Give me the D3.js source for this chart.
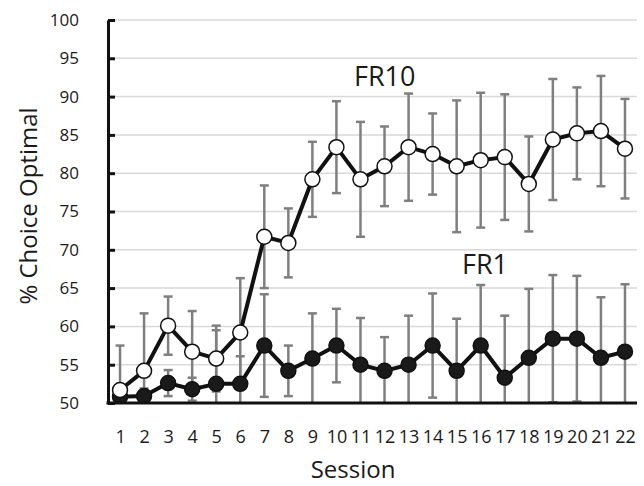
<!DOCTYPE html>
<html>
<head>
<meta charset="utf-8">
<script src="https://cdn.jsdelivr.net/npm/d3@7"></script>
<style>
  body { margin: 0; background: #fff; }
  text { font-family: "Open Sans", sans-serif; fill: #1a1a1a; }
</style>
</head>
<body>
<div id="container"></div>
<script>
// data
const sessions = d3.range(1, 23);
const fr10 = [51.7, 54.2, 60.1, 56.7, 55.8, 59.2, 71.7, 70.9, 79.2, 83.4, 79.2,
              80.9, 83.4, 82.5, 80.9, 81.7, 82.1, 78.6, 84.4, 85.2, 85.5, 83.2];
const fr10Err = [5.8, 7.5, 3.8, 5.3, 4.3, 7.1, 6.7, 4.5, 4.9, 6.0, 7.5,
                 5.2, 7.0, 5.3, 8.6, 8.8, 8.2, 6.2, 7.9, 6.0, 7.2, 6.5];
const fr1 = [50.8, 50.9, 52.6, 51.8, 52.5, 52.5, 57.5, 54.2, 55.8, 57.5, 55.0,
             54.2, 55.0, 57.5, 54.2, 57.5, 53.3, 55.9, 58.4, 58.4, 55.9, 56.7];
const fr1Err = [1.0, 1.0, 1.7, 1.5, 7.0, 3.6, 6.7, 3.3, 5.9, 4.8, 6.1,
                4.4, 6.4, 6.8, 6.8, 7.9, 8.1, 9.0, 8.3, 8.2, 7.9, 8.8];
const yTicks = [50, 55, 60, 65, 70, 75, 80, 85, 90, 95, 100];

const width = 644;
const height = 486;
const margin = { top: 20, right: 7, bottom: 83, left: 108 };

const svg = d3.select('#container')
    .append('svg')
    .attr('width', width)
    .attr('height', height);

const x = d3.scalePoint()
    .domain(sessions)
    .range([margin.left, width - margin.right])
    .padding(0.5);

const y = d3.scaleLinear()
    .domain([50, 100])
    .range([height - margin.bottom, margin.top]);

// clip so error bars stop at the axis
svg.append("clipPath").attr("id", "plotclip")
    .append("rect")
    .attr("x", margin.left)
    .attr("y", margin.top - 5)
    .attr("width", width - margin.left - margin.right)
    .attr("height", y(50) - margin.top + 5);

// gridlines
svg.append("g")
    .selectAll("line")
    .data(yTicks.slice(1))
    .join("line")
    .attr("x1", margin.left)
    .attr("x2", width - margin.right)
    .attr("y1", d => y(d))
    .attr("y2", d => y(d))
    .attr("stroke", "#d9d9d9")
    .attr("stroke-width", 1.5);

const plot = svg.append("g").attr("clip-path", "url(#plotclip)");

function errorBars(vals, errs) {
    const g = plot.append("g")
        .attr("stroke", "#7f7f7f")
        .attr("stroke-width", 2.5);
    vals.forEach((v, i) => {
        const cx = x(sessions[i]);
        g.append("line")
            .attr("x1", cx).attr("x2", cx)
            .attr("y1", y(v - errs[i])).attr("y2", y(v + errs[i]));
        [v - errs[i], v + errs[i]].forEach(e => {
            g.append("line")
                .attr("x1", cx - 4.5).attr("x2", cx + 4.5)
                .attr("y1", y(e)).attr("y2", y(e));
        });
    });
}
errorBars(fr10, fr10Err);
errorBars(fr1, fr1Err);

const line = d3.line()
    .x((d, i) => x(sessions[i]))
    .y(d => y(d));

function series(vals, fill) {
    plot.append("path")
        .datum(vals)
        .attr("d", line)
        .attr("fill", "none")
        .attr("stroke", "#111")
        .attr("stroke-width", 4)
        .attr("stroke-linejoin", "round");
    plot.append("g")
        .selectAll("circle")
        .data(vals)
        .join("circle")
        .attr("cx", (d, i) => x(sessions[i]))
        .attr("cy", d => y(d))
        .attr("r", 7.5)
        .attr("fill", fill)
        .attr("stroke", "#111")
        .attr("stroke-width", 1.5);
}
series(fr1, "#1a1a1a");
series(fr10, "#fff");

// y axis
svg.append("g")
    .attr("transform", `translate(${margin.left},0)`)
    .call(d3.axisLeft(y).tickValues(yTicks).tickSizeInner(-7).tickSizeOuter(0).tickPadding(29))
    .call(g => g.selectAll("line, path").attr("stroke", "#111").attr("stroke-width", 3))
    .call(g => g.selectAll("text").attr("font-size", "17px").attr("fill", "#222"))
    .attr("font-family", null);

// x axis
svg.append("g")
    .attr("transform", `translate(0,${y(50)})`)
    .call(d3.axisBottom(x).tickSize(0).tickPadding(27))
    .call(g => g.select(".domain").attr("d", `M${margin.left - 1.5},0H${width - margin.right}`)
        .attr("stroke", "#111").attr("stroke-width", 3))
    .call(g => g.selectAll("text").attr("font-size", "18px").attr("fill", "#222"))
    .attr("font-family", null);

// titles
svg.append("text")
    .attr("x", 353)
    .attr("y", 478)
    .attr("text-anchor", "middle")
    .attr("font-size", "24px")
    .text("Session");

svg.append("text")
    .attr("transform", "translate(37,206) rotate(-90)")
    .attr("text-anchor", "middle")
    .attr("font-size", "24px")
    .text("% Choice Optimal");

// series labels
svg.append("text")
    .attr("x", 354)
    .attr("y", 86)
    .attr("font-size", "27px")
    .text("FR10");

svg.append("text")
    .attr("x", 462)
    .attr("y", 274)
    .attr("font-size", "27px")
    .text("FR1");
</script>
</body>
</html>
